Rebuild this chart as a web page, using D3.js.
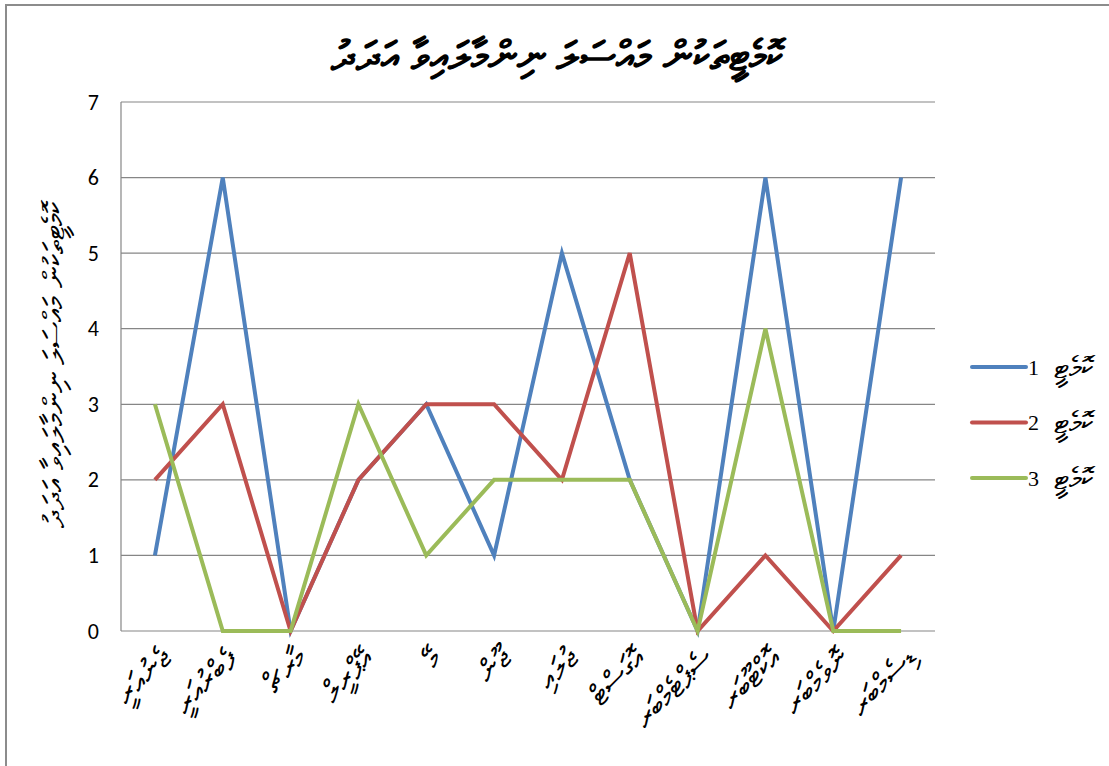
<!DOCTYPE html>
<html>
<head>
<meta charset="utf-8">
<script src="https://cdn.jsdelivr.net/npm/d3@7"></script>
<style>
body { margin: 0; background: #fff; }
</style>
</head>
<body>
<svg id="chart" width="1109" height="766"></svg>
<script>
// months, dhivehi
var months = ["ޖެނުއަރީ", "ފެބްރުއަރީ", "މާރޗް", "އޭޕްރީލް", "މޭ", "ޖޫން",
	"ޖުލައި", "އޮގަސްޓް", "ސެޕްޓެމްބަރ", "އޮކްޓޫބަރ", "ނޮވެމްބަރ", "ޑިސެމްބަރ"];
var committee1 = [1, 6, 0, 2, 3, 1, 5, 2, 0, 6, 0, 6];
var committee2 = [2, 3, 0, 2, 3, 3, 2, 5, 0, 1, 0, 1];
var committee3 = [3, 0, 0, 3, 1, 2, 2, 2, 0, 4, 0, 0];
var seriesWord = "ކޮމެޓީ";
var seriesNumbers = ["1", "2", "3"];
var yTicks = [0, 1, 2, 3, 4, 5, 6, 7];
var titleText = "ކޮމެޓީތަކުން މައްސަލަ ނިންމާލައިވާ އަދަދު";
var yLabelText = "ކޮމެޓީތަކުން މައްސަލަ ނިންމާލައިވާ އަދަދު";

var colors = ["#4F81BD", "#C0504D", "#9BBB59"];
var allSeries = [committee1, committee2, committee3];

function drawChart(){

	var svg = d3.select('#chart');

	// outer chart border
	svg.append('rect')
		.attr('x', 6).attr('y', 5)
		.attr('width', 1120).attr('height', 800)
		.attr('fill', 'none')
		.attr('stroke', '#8c8c8c')
		.attr('stroke-width', 2);

	var pLeft = 121, pRight = 935, pTop = 102, pBottom = 631;

	var x = d3.scalePoint()
		.domain(months)
		.range([pLeft, pRight])
		.padding(0.5);

	var y = d3.scaleLinear()
		.domain([0, 7])
		.range([pBottom, pTop]);

	// gridlines
	svg.append('g')
		.selectAll('line')
		.data(yTicks)
		.enter()
		.append('line')
			.attr('x1', pLeft).attr('x2', pRight)
			.attr('y1', function(d){ return y(d) })
			.attr('y2', function(d){ return y(d) })
			.attr('stroke', '#868686')
			.attr('stroke-width', 1.2);

	// left axis line
	svg.append('line')
		.attr('x1', pLeft).attr('x2', pLeft)
		.attr('y1', pTop).attr('y2', pBottom)
		.attr('stroke', '#868686')
		.attr('stroke-width', 1.2);

	// y tick labels
	var yAxis = d3.axisLeft(y).tickValues(yTicks).tickSize(0).tickPadding(22).tickFormat(d3.format('d'));
	var yg = svg.append('g')
		.attr('transform', 'translate(' + pLeft + ',0)')
		.call(yAxis);
	yg.select('.domain').remove();
	yg.selectAll('text')
		.style('font-family', 'Carlito, "Liberation Sans", Arial, sans-serif')
		.style('font-size', '22px')
		.attr('fill', '#000');

	// x labels, rotated
	var xAxis = d3.axisBottom(x).tickSize(0).tickPadding(0);
	var xg = svg.append('g')
		.attr('transform', 'translate(0,' + pBottom + ')')
		.call(xAxis);
	xg.select('.domain').remove();
	xg.selectAll('text')
		.attr('transform', 'translate(10,22) rotate(-45)')
		.attr('dy', '0.35em')
		.attr('y', 0)
		.attr('text-anchor', 'end')
		.style('font-family', '"Noto Sans", "DejaVu Sans", sans-serif')
		.style('font-size', '30px')
		.attr('fill', '#000');

	// lines
	var line = d3.line()
		.x(function(d, i){ return x(months[i]) })
		.y(function(d){ return y(d) });

	svg.append('g')
		.selectAll('path')
		.data(allSeries)
		.enter()
		.append('path')
			.attr('d', line)
			.attr('fill', 'none')
			.attr('stroke', function(d, i){ return colors[i] })
			.attr('stroke-width', 4)
			.attr('stroke-linejoin', 'miter');

	// title
	svg.append('text')
		.attr('x', 557).attr('y', 70)
		.attr('text-anchor', 'middle')
		.attr('direction', 'rtl')
		.style('font-family', '"Noto Sans", "DejaVu Sans", sans-serif')
		.style('font-size', '41px')
		.style('font-weight', 'bold')
		.text(titleText);

	// y label
	svg.append('text')
		.attr('transform', 'translate(64,365) rotate(-90)')
		.attr('text-anchor', 'middle')
		.attr('direction', 'rtl')
		.style('font-family', '"Noto Sans", "DejaVu Sans", sans-serif')
		.style('font-size', '29.5px')
		.text(yLabelText);

	// legend
	var legend = svg.append('g')
		.selectAll('g')
		.data(seriesNumbers)
		.enter()
		.append('g')
			.attr('transform', function(d, i){ return 'translate(972,' + (367 + i * 55.5) + ')' });

	legend.append('line')
		.attr('x1', 0).attr('x2', 54)
		.attr('y1', 0).attr('y2', 0)
		.attr('stroke', function(d, i){ return colors[i] })
		.attr('stroke-width', 4)
		.attr('stroke-linecap', 'round');

	legend.append('text')
		.attr('x', 56).attr('y', 0)
		.attr('dy', '0.35em')
		.style('font-family', '"Liberation Serif", "DejaVu Serif", serif')
		.style('font-size', '22px')
		.text(function(d){ return d });

	legend.append('text')
		.attr('x', 121).attr('y', 0)
		.attr('dy', '0.35em')
		.attr('text-anchor', 'end')
		.style('font-family', '"Noto Sans", "DejaVu Sans", sans-serif')
		.style('font-size', '30px')
		.text(seriesWord);
};

window.onload = function(){
	drawChart();
};
</script>
</body>
</html>
